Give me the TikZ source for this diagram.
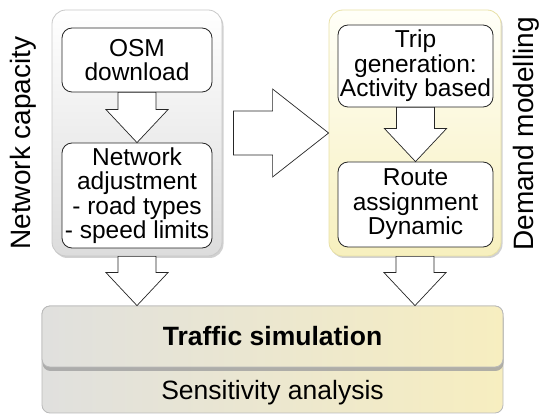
\documentclass[tikz,border=0pt]{standalone}
\usepackage{fontspec}
\setmainfont{Liberation Sans}
\usetikzlibrary{calc,shadows}
\definecolor{contgray}{RGB}{220,220,220}
\definecolor{contgrayline}{RGB}{200,200,200}
\definecolor{contyel}{RGB}{247,240,190}
\definecolor{contyeltop}{RGB}{255,255,248}
\definecolor{contyelline}{RGB}{232,224,165}
\definecolor{botgray}{RGB}{224,224,222}
\definecolor{botyel}{RGB}{247,238,192}
\newcommand\boxfont{\fontsize{24.5}{24.5}\selectfont}
\newcommand\blkdown[2]{%
  \draw[blk] let \p1=#1, \p2=#2 in
    (\x2-19pt,\y1) -- (\x2+19pt,\y1) -- (\x2+19pt,\y2+33pt) -- (\x2+31pt,\y2+33pt)
    -- (\x2,\y2) -- (\x2-31pt,\y2+33pt) -- (\x2-19pt,\y2+33pt) -- cycle;}
\newcommand\blkright[2]{%
  \draw[blk] let \p1=#1, \p2=#2 in
    (\x1+11pt,\y2+22pt) -- (\x2-56pt,\y2+22pt) -- (\x2-56pt,\y2+44pt) -- (\x2,\y2)
    -- (\x2-56pt,\y2-44pt) -- (\x2-56pt,\y2-22pt) -- (\x1+11pt,\y2-22pt) -- cycle;}
\begin{document}
\begin{tikzpicture}[x=1pt,y=-1pt]
\tikzset{
  cont/.style={rounded corners=14pt, line width=0.8pt, minimum width=#1, minimum height=246pt, inner sep=0pt},
  innerbox/.style={draw=black!85, fill=white, rounded corners=10pt, line width=0.8pt,
    align=center, inner sep=0pt, font=\boxfont, minimum width=#1},
  blk/.style={draw=black!85, fill=white, line width=0.7pt, line join=miter},
  botbox/.style={draw=gray!55, left color=botgray, right color=botyel, rounded corners=8pt,
    line width=0.8pt, minimum width=461pt, inner sep=0pt},
  sidelabel/.style={rotate=90, font=\fontsize{28}{30}\selectfont, inner sep=0pt}
}
\useasboundingbox (0,0) rectangle (539,414);
% containers
\node[cont=170pt, draw=contgrayline, top color=white, bottom color=contgray,
  drop shadow={shadow xshift=1.5pt, shadow yshift=-2pt, fill=gray!60, opacity=0.6}]
  (netcont) at (137,133) {};
\node[cont=172pt, draw=contyelline, top color=contyeltop, bottom color=contyel,
  drop shadow={shadow xshift=1.5pt, shadow yshift=-2pt, fill=gray!60, opacity=0.6}]
  (demcont) at (415,133) {};
% inner boxes
\node[innerbox=150pt, minimum height=64pt] (osm) at (137,60) {OSM\\download};
\node[innerbox=150pt, minimum height=105pt] (netadj) at (137,195.5)
  {Network\\adjustment\\- road types\\- speed limits};
\node[innerbox=155pt, minimum height=82pt] (trip) at (415.5,66)
  {Trip\\generation:\\Activity based};
\node[innerbox=155pt, minimum height=85pt] (route) at (415.5,204.5)
  {Route\\assignment\\Dynamic};
% bottom boxes
\node[botbox, minimum height=107pt] (sens) at (272.5,359.5) {};
\node[botbox, minimum height=61pt,
  drop shadow={shadow xshift=0.5pt, shadow yshift=-4pt, fill=gray!75, opacity=0.8}]
  (traffic) at (272.5,336.5) {\fontsize{26.5}{28}\selectfont\bfseries Traffic simulation};
\node[font=\fontsize{26.5}{28}\selectfont, inner sep=0pt] (senstext) at (272.5,393)
  {Sensitivity analysis};
% side labels
\node[sidelabel] (netlabel) at (23,143) {Network capacity};
\node[sidelabel] (demlabel) at (526,134) {Demand modelling};
% block arrows
\blkdown{(osm.south)}{(netadj.north)}
\blkdown{(trip.south)}{(route.north)}
\blkdown{(netcont.south)}{(netcont.south |- traffic.north)}
\blkdown{(demcont.south)}{(demcont.south |- traffic.north)}
\blkright{(netcont.east)}{(demcont.west)}
\end{tikzpicture}
\end{document}
